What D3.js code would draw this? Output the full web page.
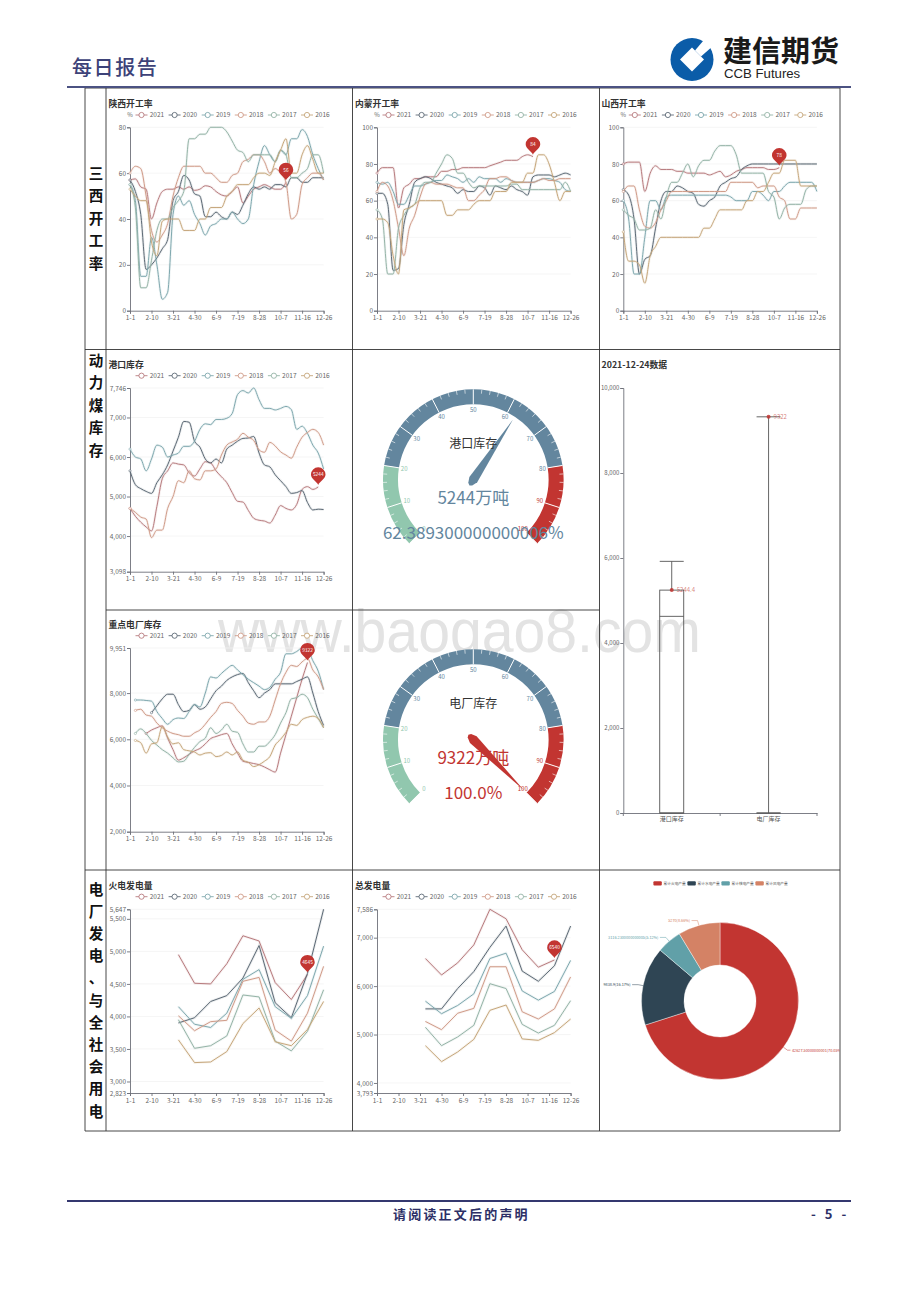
<!DOCTYPE html>
<html><head><meta charset="utf-8">
<script src="https://cdn.jsdelivr.net/npm/d3@7/dist/d3.min.js"></script>
<style>
html,body{margin:0;padding:0;background:#fff}
svg{display:block}
text{font-family:"Noto Sans CJK SC","Noto Sans",sans-serif}
</style></head><body><svg id="c" width="920" height="1302" viewBox="0 0 920 1302"></svg>
<script>
const categories=["1-1","1-11","1-21","1-31","2-10","2-20","3-1","3-11","3-21","3-31","4-10","4-20","4-30","5-10","5-20","5-30","6-9","6-19","6-29","7-9","7-19","7-29","8-8","8-18","8-28","9-7","9-17","9-27","10-7","10-17","10-27","11-6","11-16","11-26","12-6","12-16","12-26"];
const tickCats=["1-1","2-10","3-21","4-30","6-9","7-19","8-28","10-7","11-16","12-26"];
const monthCats=["3-31","4-30","5-30","6-29","7-29","8-28","9-27","10-27","11-26","12-26"];
const years=["2021","2020","2019","2018","2017","2016"];
const yearColors=["#b87c7f","#5d6a76","#7fa8ae","#d09c89","#95b4a7","#c6a77c"];

const sx2021=[57,57.5,54,53,40,47,52,53,53,54,53,54,52.5,53,54.5,54,52,50.5,50,52,54,47,50,53,54,55,54,53,53,56];
const sx2020=[57,52,42,18,20,23,27,31,48,52,59,57,51,50,41,41,43,41,40,43,42,46,51,54,53,54,53,55,55,54,58,58,56,56,58,58,58];
const sx2019=[55,48,15,15,32,20,5,8,42,50,46,48,42,38,33,37,38,40,40,43,40,38,40,55,65,72,68,65,70,68,75,75,79,76,68,62,57];
const sx2018=[60,63,62,50,35,30,33,38,50,58,63,63,63,63,60,60,58,56,56,59,60,65,66,68,68,65,60,62,60,56,40,42,55,58,60,60,57];
const sx2017=[55,45,10,10,22,35,40,40,45,48,52,75,75,77,77,80,80,80,78,74,70,69,65,68,68,68,68,65,70,68,58,58,60,62,68,68,60];
const sx2016=[53,50,48,48,30,24,39,40,40,40,35,35,35,40,40,45,45,45,50,52,55,55,55,58,60,60,59,65,70,75,60,60,68,72,66,60,60];

const nm2021=[75,78,78,78,56,67,69,72,72,73,73,73,76,76,77,77,78,78,78,78,78,79,80,81,82,82,82,84,85,84];
const nm2020=[64,64,58,22,23,47,58,70,72,73,72,70,69,68,67,64,66,65,65,68,67,63,68,67,66,68,66,65,63,73,74,74,74,73,74,75,74];
const nm2019=[70,69,70,65,58,58,63,68,68,69,70,71,71,74,73,72,70,72,70,73,72,72,72,70,72,71,70,70,70,70,71,72,72,71,70,66,65];
const nm2018=[65,70,68,60,45,30,45,52,62,69,70,69,69,69,68,67,67,60,60,63,66,72,72,73,73,71,70,70,70,70,71,72,71,71,72,72,72];
const nm2017=[55,50,20,20,45,52,56,58,67,70,70,75,80,85,83,75,75,70,67,68,68,68,68,68,68,69,69,66,66,66,66,66,66,66,66,70,65];
const nm2016=[50,50,48,30,20,55,56,58,60,60,60,60,60,52,52,55,55,55,58,60,60,60,65,65,65,70,70,70,75,75,85,85,80,70,60,65,65];

const shx2021=[80,81,81,81,65,75,79,77,77,77,76,76,75,75,75,75,74,75,76,73,74,76,77,78,78,78,78,77,77,78];
const shx2020=[66,63,50,20,28,30,45,60,65,65,68,67,65,64,58,57,60,62,68,70,72,73,77,79,80,80,80,80,80,80,80,80,80,80,80,80,80];
const shx2019=[60,50,20,20,40,60,60,55,62,63,63,63,63,63,63,63,63,63,63,63,62,60,60,60,65,65,63,60,65,65,68,70,70,70,70,70,65];
const shx2018=[65,68,68,55,46,45,48,55,60,65,65,65,65,65,65,65,65,65,65,65,70,70,70,70,70,67,68,68,68,62,60,50,50,56,56,56,56];
const shx2017=[55,52,50,44,44,45,55,50,62,70,70,75,80,73,79,82,82,87,90,90,90,85,75,75,75,75,75,65,62,50,56,58,58,58,66,68,68];
const shx2016=[43,27,27,25,15,30,35,40,40,40,40,40,40,40,40,45,45,50,55,55,55,55,55,60,60,65,65,70,75,75,82,82,82,68,68,68,68];

const port2021=[4700,4500,4350,4230,4130,4750,5450,5650,5850,5820,5800,5600,5520,5700,5880,5850,5650,5500,5350,5100,4880,4860,4650,4450,4400,4380,4330,4530,4770,4700,4660,4800,5180,5250,5180,5244];
const port2020=[5650,5300,5200,5130,5080,5350,5550,5800,6150,6500,6900,6880,6400,6250,5950,5850,5950,5850,6200,6300,6400,6470,6480,6520,6100,5800,5750,5550,5400,5250,5080,5100,5150,4850,4660,4680,4670];
const port2019=[6200,6000,5950,5650,5950,6300,6250,6000,6050,6100,6270,6270,6400,6700,6840,6820,6950,6950,6980,7100,7580,7680,7620,7746,7450,7230,7230,7190,7230,7280,7200,6700,6780,6600,6300,6100,5700];
const port2018=[4700,4600,4480,4430,3960,4150,4150,4700,5000,5400,5350,5650,5450,5420,5650,5650,5700,6050,6300,6380,6450,6600,6500,6420,6180,6120,6370,6280,6130,6050,5970,6250,6500,6620,6700,6620,6300];

const plant2021=[null,null,null,6250,6400,6500,6580,6050,5550,5100,5200,5350,5500,5600,5800,6030,6120,6200,6250,5800,5400,5050,5000,4950,4900,4800,4680,4580,5400,6200,7000,7800,8600,9322];
const plant2020=[null,null,null,null,7150,7450,7750,7950,7950,7500,7200,7250,7500,7300,7400,7750,8100,8300,8550,8700,8800,8850,8450,8100,7800,8000,8150,8400,8400,8400,8400,8500,8600,8700,8000,7200,6600];
const plant2019=[null,7700,7700,7680,7650,7200,6900,6650,6850,6920,6900,7200,7500,7400,8000,8700,8650,8850,9050,9200,9000,8800,8600,8450,8300,8150,8250,8600,8900,9700,9700,9800,9951,9900,9400,8950,8150];
const plant2018=[null,7250,7300,7050,7000,6700,6500,6350,6250,6200,6130,6130,6280,6400,6650,6950,7200,7550,7600,7550,7250,7000,6700,6650,6750,6750,7000,7700,8400,8900,9200,9150,9350,9500,9000,8700,8150];
const plant2017=[null,6250,6450,6250,5950,5750,5550,5400,5200,5020,5050,5350,5650,5900,6050,6500,6250,6400,6650,6350,6300,5800,5450,5450,5700,5700,5900,6200,6700,7150,7750,7800,7950,7800,7300,6900,6500];
const plant2016=[null,5950,5850,5400,5800,5850,6550,6100,5800,5850,5550,5500,5450,5320,5400,5420,5250,5300,5450,5320,5450,5100,5000,4820,4900,5050,5250,5750,6000,6300,6650,6600,6850,6950,7000,6900,6500];

const th2021=[4950,4510,4500,4810,5240,5160,4520,4260,4645];
const th2020=[3900,3980,4230,4320,4590,5090,4210,3980,4660,5647];
const th2019=[4150,3880,3830,4050,4570,4720,4150,3970,4320,5080];
const th2018=[4010,3780,3920,3940,4540,4600,3790,3620,4050,4770];
const th2017=[3950,3510,3550,3700,4330,4300,3620,3470,3770,4410];
const th2016=[3640,3290,3300,3460,3890,4130,3610,3550,3800,4230];

const tot2021=[6570,6230,6480,6850,7586,7390,6750,6390,6540];
const tot2020=[5530,5530,5950,6300,6800,7240,6310,6100,6420,7240];
const tot2019=[5690,5430,5600,5840,6570,6680,5900,5710,5890,6530];
const tot2018=[5270,5100,5440,5540,6400,6400,5470,5320,5530,6190];
const tot2017=[5150,4770,4950,5190,6050,5950,5210,5030,5190,5700];
const tot2016=[4770,4440,4640,4900,5500,5610,4910,4880,5040,5320];

const boxCats=["港口库存","电厂库存"];
const boxStats=[[0,0,4627,5244.4,5921],[0,0,0,0,9322]];
const boxPoints=[5244.4,9322];
const boxLabels=["5244.4","9322"];
const boxTicks=[0,2000,4000,6000,8000,10000];

const pieNames=["累计火电产量","累计水电产量","累计核电产量","累计风电产量"];
const pieValues=[42627.5,9838.9,3116.23,5270];
const pieLabels=["42627.50000000001(70.05%)","9838.9(16.17%)","3116.2300000000005(5.12%)","5270(8.66%)"];
const pieColors=["#c23531","#2f4554","#61a0a8","#d48265"];

const gaugeBands=[[0,20,"#91c7ae"],[20,80,"#63869e"],[80,100,"#c23531"]];
const gaugeMajor=[0,10,20,30,40,50,60,70,80,90,100];

const svg=d3.select("#c");
const axisGray="#6e7079",txtGray="#666";

/* ---------- page frame ---------- */
svg.append("text").attr("x",218).attr("y",652).attr("font-size",62).attr("textLength",483).attr("lengthAdjust","spacingAndGlyphs")
  .attr("fill","#e3e3e3").style("font-family","'Liberation Sans'").text("www.baogao8.com");

const frame=svg.append("g").attr("stroke","#333").attr("stroke-width",0.9).attr("fill","none");
[[85,88,840,88],[85,349.5,840,349.5],[106,610,599.5,610],[85,870,840,870],[85,1131,840,1131],
 [85,88,85,1131],[106,88,106,1131],[352.5,88,352.5,1131],[599.5,88,599.5,1131],[840,88,840,1131]]
 .forEach(l=>frame.append("line").attr("x1",l[0]).attr("y1",l[1]).attr("x2",l[2]).attr("y2",l[3]));

svg.append("line").attr("x1",67).attr("x2",851).attr("y1",87).attr("y2",87).attr("stroke","#4b5282").attr("stroke-width",2);
svg.append("line").attr("x1",67).attr("x2",851).attr("y1",1201).attr("y2",1201).attr("stroke","#34386f").attr("stroke-width",2);
svg.append("text").attr("x",72).attr("y",75).attr("font-size",20).attr("letter-spacing",1.6).attr("fill","#3d4278").attr("font-weight",500).text("每日报告");
svg.append("text").attr("x",393).attr("y",1219).attr("font-size",13).attr("font-weight",700).attr("letter-spacing",2.2).attr("fill","#2d2f66").text("请阅读正文后的声明");
svg.append("text").attr("x",811).attr("y",1219).attr("font-size",13).attr("font-weight",700).attr("letter-spacing",1).attr("word-spacing",4).attr("fill","#2d2f66").text("- 5 -");

/* logo */
const logo=svg.append("g").attr("transform","translate(692,59.5)");
logo.append("circle").attr("r",21.5).attr("fill","#0b5ca8");
logo.append("path").attr("d","M0,-12L12,0L0,12L-12,0Z").attr("fill","#fff");
logo.append("path").attr("d","M3,-9L14,-22L26,-18L9,-3Z").attr("fill","#fff");
svg.append("text").attr("x",723).attr("y",62).attr("font-size",29).attr("font-weight",700).attr("fill","#1a1a1a").text("建信期货");
svg.append("text").attr("x",724).attr("y",78).attr("font-size",13.2).attr("fill","#222").style("font-family","'Liberation Sans'").text("CCB Futures");

/* row labels */
function rowLabel(str,y0,step){
  Array.from(str).forEach((ch,i)=>svg.append("text").attr("x",96).attr("y",y0+i*step+5.5).attr("text-anchor","middle")
    .attr("font-size",14.5).attr("font-weight",700).attr("fill","#111").text(ch));
}
rowLabel("三西开工率",173,22.5);
rowLabel("动力煤库存",360,22.5);
rowLabel("电厂发电、与全社会用电",889,22.2);

/* ---------- line panels ---------- */
function styleAxis(g,size){
  g.selectAll("path,line").attr("stroke",axisGray).attr("stroke-width",0.9);
  g.selectAll("text").attr("fill",txtGray).attr("font-size",size||6.5);
}
function linePanel(o){
  const g=svg.append("g");
  const x=d3.scalePoint().domain(o.cats).range([o.x0,o.x0+193.6]);
  const y=d3.scaleLinear().domain(o.domain).range([o.yB,o.yT]);
  g.append("text").attr("x",o.tx).attr("y",o.yT-20).attr("font-size",8.8).attr("font-weight",700).attr("fill","#333").text(o.title);
  if(o.unit) g.append("text").attr("x",o.x0).attr("y",o.legY+2.2).attr("text-anchor","middle").attr("font-size",6).attr("fill",txtGray).text(o.unit);
  years.forEach((yr,i)=>{
    const cx=o.x0+11.5+i*33.1;
    g.append("line").attr("x1",cx-6).attr("x2",cx+6).attr("y1",o.legY).attr("y2",o.legY).attr("stroke",yearColors[i]).attr("stroke-width",0.9);
    g.append("circle").attr("cx",cx).attr("cy",o.legY).attr("r",2.6).attr("fill","#fff").attr("stroke",yearColors[i]).attr("stroke-width",0.9);
    g.append("text").attr("x",cx+8.2).attr("y",o.legY+2.3).attr("font-size",6.5).attr("fill",txtGray).text(yr);
  });
  o.ticks.forEach(t=>{ if(t>o.domain[0]) g.append("line").attr("x1",o.x0).attr("x2",o.x0+193.6).attr("y1",y(t)).attr("y2",y(t)).attr("stroke","#f3f3f3").attr("stroke-width",0.8); });
  const ax=g.append("g").attr("transform",`translate(0,${o.yB})`).call(d3.axisBottom(x).tickValues(tickCats).tickSize(3).tickPadding(2));
  styleAxis(ax);
  const ay=g.append("g").attr("transform",`translate(${o.x0},0)`).call(d3.axisLeft(y).tickValues(o.ticks).tickSize(3).tickPadding(1).tickFormat(d3.format(",")));
  styleAxis(ay);
  const monthly=o.lineCats!==o.cats;
  const line=d3.line().defined(d=>d.v!=null).x(d=>x(d.c)).y(d=>y(d.v)).curve(monthly?d3.curveLinear:d3.curveMonotoneX);
  o.series.forEach((s,i)=>{
    const pts=s.map((v,k)=>({c:o.lineCats[k],v}));
    g.append("path").attr("d",line(pts)).attr("fill","none").attr("stroke",yearColors[i]).attr("stroke-width",2.6).attr("stroke-opacity",0.13);
    g.append("path").attr("d",line(pts)).attr("fill","none").attr("stroke",yearColors[i]).attr("stroke-width",1);
    if(!monthly){
      const first=pts.find(p=>p.v!=null);
      g.append("circle").attr("cx",x(first.c)).attr("cy",y(first.v)).attr("r",1.1).attr("fill","#fff").attr("stroke",yearColors[i]).attr("stroke-width",0.6);
    }
  });
  const s0=o.series[0], last=s0.length-1;
  const tipx=x(o.lineCats[last]), tipy=y(s0[last])-2;
  const pin=g.append("g").attr("transform",`translate(${tipx},${tipy})`);
  pin.append("path").attr("d","M0,0C-1.5,-3.2 -7.3,-6 -7.3,-10.3A7.3,7.3 0 1 1 7.3,-10.3C7.3,-6 1.5,-3.2 0,0Z").attr("fill","#c23531");
  pin.append("text").attr("y",-8.6).attr("text-anchor","middle").attr("font-size",4.8).attr("fill","#fff").text(s0[last]);
}
const rate80=[0,20,40,60,80], rate100=[0,20,40,60,80,100];
linePanel({title:"陕西开工率",unit:"%",tx:108.5,x0:130,yT:127.3,yB:310.7,legY:115,domain:[0,80],ticks:rate80,cats:categories,lineCats:categories,series:[sx2021,sx2020,sx2019,sx2018,sx2017,sx2016]});
linePanel({title:"内蒙开工率",unit:"%",tx:355,x0:377,yT:127.3,yB:310.7,legY:115,domain:[0,100],ticks:rate100,cats:categories,lineCats:categories,series:[nm2021,nm2020,nm2019,nm2018,nm2017,nm2016]});
linePanel({title:"山西开工率",unit:"%",tx:601.5,x0:623.3,yT:127.3,yB:310.7,legY:115,domain:[0,100],ticks:rate100,cats:categories,lineCats:categories,series:[shx2021,shx2020,shx2019,shx2018,shx2017,shx2016]});
linePanel({title:"港口库存",tx:108.5,x0:130,yT:388,yB:571.7,legY:375.7,domain:[3098,7746],ticks:[3098,4000,5000,6000,7000,7746],cats:categories,lineCats:categories,series:[port2021,port2020,port2019,port2018]});
linePanel({title:"重点电厂库存",tx:108.5,x0:130,yT:648,yB:831.7,legY:635.7,domain:[2000,9951],ticks:[2000,4000,6000,8000,9951],cats:categories,lineCats:categories,series:[plant2021,plant2020,plant2019,plant2018,plant2017,plant2016]});
linePanel({title:"火电发电量",tx:108.5,x0:130,yT:909.3,yB:1093,legY:896.7,domain:[2823,5647],ticks:[2823,3000,3500,4000,4500,5000,5500,5647],cats:categories,lineCats:monthCats,series:[th2021,th2020,th2019,th2018,th2017,th2016]});
linePanel({title:"总发电量",tx:355,x0:377,yT:909.3,yB:1093,legY:896.7,domain:[3793,7586],ticks:[3793,4000,5000,6000,7000,7586],cats:categories,lineCats:monthCats,series:[tot2021,tot2020,tot2019,tot2018,tot2017,tot2016]});

/* ---------- gauges ---------- */
function gauge(o){
  const g=svg.append("g").attr("transform",`translate(473.3,${o.cy})`);
  const R=90.3, ri=75.3;
  const ang=d3.scaleLinear().domain([0,100]).range([-135,135]);
  const rad=d=>ang(d)*Math.PI/180;
  const arc=d3.arc().innerRadius(ri).outerRadius(R);
  gaugeBands.forEach(b=>g.append("path").attr("d",arc({startAngle:rad(b[0]),endAngle:rad(b[1])})).attr("fill",b[2]));
  const bandColor=v=>gaugeBands.find(b=>v<=b[1])[2];
  d3.range(0,101,2).forEach(v=>{
    const a=rad(v), major=v%10===0, r0=major?ri:R-4;
    g.append("line").attr("x1",r0*Math.sin(a)).attr("y1",-r0*Math.cos(a)).attr("x2",R*Math.sin(a)).attr("y2",-R*Math.cos(a))
      .attr("stroke","#fff").attr("stroke-width",major?1:0.6);
  });
  gaugeMajor.forEach(v=>{
    const a=rad(v);
    g.append("text").attr("x",70*Math.sin(a)).attr("y",-70*Math.cos(a)+2.1).attr("text-anchor","middle").attr("font-size",6)
      .attr("fill",bandColor(v)).text(v);
  });
  const col=bandColor(o.pct);
  g.append("path").attr("transform",`rotate(${ang(o.pct)})`).attr("d","M0,-72L4.7,0L2.4,5.5L0,7L-2.4,5.5L-4.7,0Z").attr("fill",col);
  g.append("text").attr("y",-32).attr("text-anchor","middle").attr("font-size",12).attr("fill","#333").text(o.title);
  g.append("text").attr("y",24.6).attr("text-anchor","middle").attr("font-size",17).attr("fill",col).text(o.valueText);
  g.append("text").attr("y",59).attr("text-anchor","middle").attr("font-size",o.pctSize).attr("fill",col).text(o.pctText);
}
gauge({cy:479.6,pct:62.3893,title:"港口库存",valueText:"5244万吨",pctText:"62.389300000000006%",pctSize:17});
gauge({cy:739.6,pct:100,title:"电厂库存",valueText:"9322万吨",pctText:"100.0%",pctSize:17});

/* ---------- box plot ---------- */
(function(){
  const g=svg.append("g");
  const x=d3.scaleBand().domain(boxCats).range([623.3,817]);
  const y=d3.scaleLinear().domain([0,10000]).range([813,388]);
  g.append("text").attr("x",601.5).attr("y",368).attr("font-size",8.8).attr("font-weight",700).attr("fill","#333").text("2021-12-24数据");
  styleAxis(g.append("g").attr("transform","translate(623.3,0)").call(d3.axisLeft(y).tickValues(boxTicks).tickSize(3).tickPadding(1).tickFormat(d3.format(","))),6);
  const ax=g.append("g").attr("transform","translate(0,813)").call(d3.axisBottom(x).tickSize(0).tickPadding(4));
  styleAxis(ax,6); ax.selectAll("text").attr("fill","#555");
  [x.range()[0],x.range()[0]+x.step(),x.range()[1]].forEach(px=>g.append("line").attr("x1",px).attr("x2",px).attr("y1",813).attr("y2",816).attr("stroke",axisGray).attr("stroke-width",0.9));
  const hw=12, stk="#555";
  boxStats.forEach((b,i)=>{
    const c=x(boxCats[i])+x.bandwidth()/2, [mn,q1,md,q3,mx]=b, box=g.append("g").attr("stroke",stk).attr("stroke-width",0.9).attr("fill","none");
    box.append("line").attr("x1",c).attr("x2",c).attr("y1",y(mx)).attr("y2",y(q3));
    box.append("line").attr("x1",c-hw).attr("x2",c+hw).attr("y1",y(mx)).attr("y2",y(mx));
    box.append("line").attr("x1",c-hw).attr("x2",c+hw).attr("y1",y(mn)).attr("y2",y(mn));
    box.append("rect").attr("x",c-hw).attr("width",2*hw).attr("y",y(q3)).attr("height",y(q1)-y(q3));
    box.append("line").attr("x1",c-hw).attr("x2",c+hw).attr("y1",y(md)).attr("y2",y(md));
    g.append("circle").attr("cx",c).attr("cy",y(boxPoints[i])).attr("r",2).attr("fill","#c23531").attr("fill-opacity",0.85);
    g.append("text").attr("x",c+5).attr("y",y(boxPoints[i])+2).attr("font-size",6).attr("fill","#c23531").attr("fill-opacity",0.65).text(boxLabels[i]);
  });
})();

/* ---------- pie ---------- */
(function(){
  const defs=svg.append("defs");
  defs.append("clipPath").attr("id","pieClip").append("rect").attr("x",600).attr("y",871).attr("width",239.5).attr("height",259);
  const g=svg.append("g").attr("clip-path","url(#pieClip)");
  const c=g.append("g").attr("transform","translate(720,1001)");
  const R=78.5, r=36;
  const arcs=d3.pie().sort(null)(pieValues);
  const arc=d3.arc().innerRadius(r).outerRadius(R);
  c.selectAll("path.s").data(arcs).join("path").attr("class","s").attr("d",arc).attr("fill",(d,i)=>pieColors[i]).attr("stroke","#fff").attr("stroke-width",0.4);
  arcs.forEach((d,i)=>{
    const m=(d.startAngle+d.endAngle)/2, sx=Math.sin(m), cy=-Math.cos(m);
    const p1=[sx*R,cy*R], p2=[sx*(R+5),cy*(R+5)], right=sx>0, p3=[p2[0]+(right?3:-6),p2[1]];
    c.append("polyline").attr("points",[p1,p2,p3].map(q=>q.join(",")).join(" ")).attr("fill","none").attr("stroke",pieColors[i]).attr("stroke-width",0.5);
    c.append("text").attr("x",p3[0]+(right?1.5:-1.5)).attr("y",p3[1]+1.4).attr("text-anchor",right?"start":"end").attr("font-size",3.8).attr("fill",pieColors[i]).text(pieLabels[i]);
  });
  pieNames.forEach((n,i)=>{
    const lx=653.4+i*34;
    g.append("rect").attr("x",lx).attr("y",881.2).attr("width",8.4).attr("height",4.4).attr("rx",1).attr("fill",pieColors[i]);
    g.append("text").attr("x",lx+10.2).attr("y",884.8).attr("font-size",3.7).attr("fill","#555").text(n);
  });
})();
</script></body></html>
